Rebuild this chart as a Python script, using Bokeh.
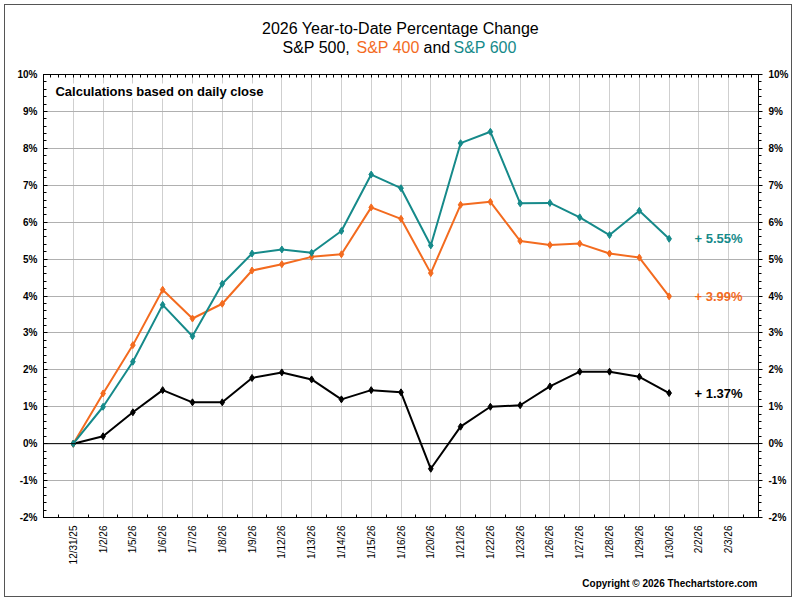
from bokeh.plotting import figure
from bokeh.models import (FixedTicker, LinearAxis, Range1d, Label, Span,
                          PrintfTickFormatter)
from bokeh.layouts import column
from bokeh.embed import file_html
from bokeh.resources import INLINE

# ---------------- data ----------------
dates = ["12/31/25", "1/2/26", "1/5/26", "1/6/26", "1/7/26", "1/8/26", "1/9/26",
         "1/12/26", "1/13/26", "1/14/26", "1/15/26", "1/16/26", "1/20/26",
         "1/21/26", "1/22/26", "1/23/26", "1/26/26", "1/27/26", "1/28/26",
         "1/29/26", "1/30/26", "2/2/26", "2/3/26"]

sp500 = [0.00, 0.20, 0.85, 1.45, 1.12, 1.12, 1.78, 1.93, 1.74, 1.20, 1.45,
         1.39, -0.68, 0.46, 1.00, 1.04, 1.55, 1.95, 1.95, 1.81, 1.37]
sp400 = [0.00, 1.36, 2.67, 4.17, 3.39, 3.79, 4.69, 4.86, 5.06, 5.13, 6.40,
         6.09, 4.62, 6.47, 6.55, 5.49, 5.38, 5.42, 5.15, 5.04, 3.99]
sp600 = [0.00, 1.00, 2.22, 3.76, 2.91, 4.33, 5.15, 5.26, 5.17, 5.76, 7.29,
         6.92, 5.37, 8.14, 8.45, 6.51, 6.52, 6.13, 5.65, 6.31, 5.55]

y_ticks = list(range(-2, 11))

BLACK = "#000000"
ORANGE = "#F36B1F"
TEAL = "#168A8A"
FONT = "Liberation Sans"
W = 786

n = len(dates)
idx = list(range(n))


def text_strip(height):
    # the column aligns this frame with the chart frame (page x 43..758)
    f = figure(width=W, height=height, output_backend="svg", toolbar_location=None,
               x_range=Range1d(43, 758), y_range=Range1d(0, height),
               min_border=0, min_border_left=0, min_border_right=0,
               min_border_top=0, min_border_bottom=0,
               x_axis_location=None, y_axis_location=None)
    f.outline_line_color = None
    f.xgrid.visible = False
    f.ygrid.visible = False
    f.background_fill_color = "white"
    f.border_fill_color = "white"
    return f


# ---------------- header (title) ----------------
hdr = text_strip(59)
hdr.add_layout(Label(x=400, y=36, text="2026 Year-to-Date Percentage Change",
                     text_font=FONT, text_font_size="16px", text_color="black",
                     text_align="center", text_baseline="middle"))
for px, txt, col in ((282, "S&P 500,", BLACK), (356, "S&P 400", ORANGE),
                     (423, "and", BLACK), (453, "S&P 600", TEAL)):
    hdr.add_layout(Label(x=px, y=17, text=txt, text_font=FONT,
                         text_font_size="16px", text_color=col,
                         text_align="left", text_baseline="middle"))

# ---------------- main chart ----------------
p = figure(width=W, height=508, output_backend="svg", toolbar_location=None,
           x_range=Range1d(-1, n), y_range=Range1d(-2, 10),
           min_border_left=38, min_border_right=33, min_border_top=10,
           min_border_bottom=55, x_axis_location=None, y_axis_location=None)
p.outline_line_color = "black"
p.outline_line_width = 1
p.background_fill_color = "white"
p.border_fill_color = "white"

xt = FixedTicker(ticks=idx, minor_ticks=[i + 0.5 for i in range(-1, n)])
xt_top = FixedTicker(ticks=[], minor_ticks=[i * 0.25 for i in range(-4, 4 * n + 1)])
yt = FixedTicker(ticks=y_ticks, minor_ticks=[round(-2 + 0.2 * k, 2) for k in range(61)])

xb = LinearAxis(ticker=xt)
xb.major_label_overrides = {i: d for i, d in enumerate(dates)}
xb.major_label_orientation = 3.14159265 / 2
xb.major_label_text_font = FONT
xb.major_label_text_font_size = "10px"
xb.major_label_text_color = "black"
xb.major_label_standoff = 8
xb.major_tick_in = 0
xb.major_tick_out = 0
xb.minor_tick_in = 3
xb.minor_tick_out = 0
xb.axis_line_color = "black"
p.add_layout(xb, "below")

xtop = LinearAxis(ticker=xt_top)
xtop.major_label_text_color = None
xtop.major_label_text_font_size = "1px"
xtop.major_label_standoff = 0
xtop.major_tick_in = 0
xtop.major_tick_out = 0
xtop.minor_tick_in = 3
xtop.minor_tick_out = 0
xtop.axis_line_color = "black"
p.add_layout(xtop, "above")

fmt = PrintfTickFormatter(format="%d%%")
yl = LinearAxis(ticker=yt, formatter=fmt)
yr = LinearAxis(ticker=yt, formatter=fmt)
for ax in (yl, yr):
    ax.major_label_text_font = FONT
    ax.major_label_text_font_size = "10px"
    ax.major_label_text_font_style = "bold"
    ax.major_label_text_color = "black"
    ax.axis_line_color = "black"
    ax.major_label_standoff = 6
yl.major_tick_in = 4
yl.major_tick_out = 0
yl.minor_tick_in = 3
yl.minor_tick_out = 0
yr.major_tick_in = 0
yr.major_tick_out = 4
yr.minor_tick_in = 0
yr.minor_tick_out = 3
p.add_layout(yl, "left")
p.add_layout(yr, "right")

p.xgrid.ticker = xt
p.ygrid.ticker = FixedTicker(ticks=y_ticks)
p.xgrid.grid_line_color = "#cfcfcf"
p.ygrid.grid_line_color = "#b0b0b0"

p.add_layout(Span(location=0, dimension="width", line_color="black", line_width=1))

for vals, col in ((sp500, BLACK), (sp400, ORANGE), (sp600, TEAL)):
    xs = idx[:len(vals)]
    p.line(xs, vals, line_color=col, line_width=2)
    p.scatter(xs, vals, marker="diamond", size=7, color=col)
    p.add_layout(Label(x=len(vals) - 1 + 0.85, y=vals[-1], text=f"+ {vals[-1]:.2f}%",
                       text_font=FONT, text_font_size="13px", text_font_style="bold",
                       text_color=col, text_baseline="middle", text_align="left"))

p.add_layout(Label(x=-0.6, y=9.55, text="Calculations based on daily close",
                   text_font=FONT, text_font_size="13px", text_font_style="bold",
                   text_color="black", text_align="left", text_baseline="middle",
                   background_fill_color="white"))

# ---------------- footer ----------------
ftr = text_strip(24)
ftr.add_layout(Label(x=757, y=13, text="Copyright \u00a9 2026 Thechartstore.com",
                     text_font=FONT, text_font_size="10px", text_font_style="bold",
                     text_color="black", text_align="right", text_baseline="middle"))

lay = column(hdr, p, ftr, spacing=0)
lay.styles = {"border": "1px solid #555555", "margin-left": "4px", "margin-top": "4px",
              "background-color": "white"}

open("out.html", "w").write(file_html(lay, INLINE))
